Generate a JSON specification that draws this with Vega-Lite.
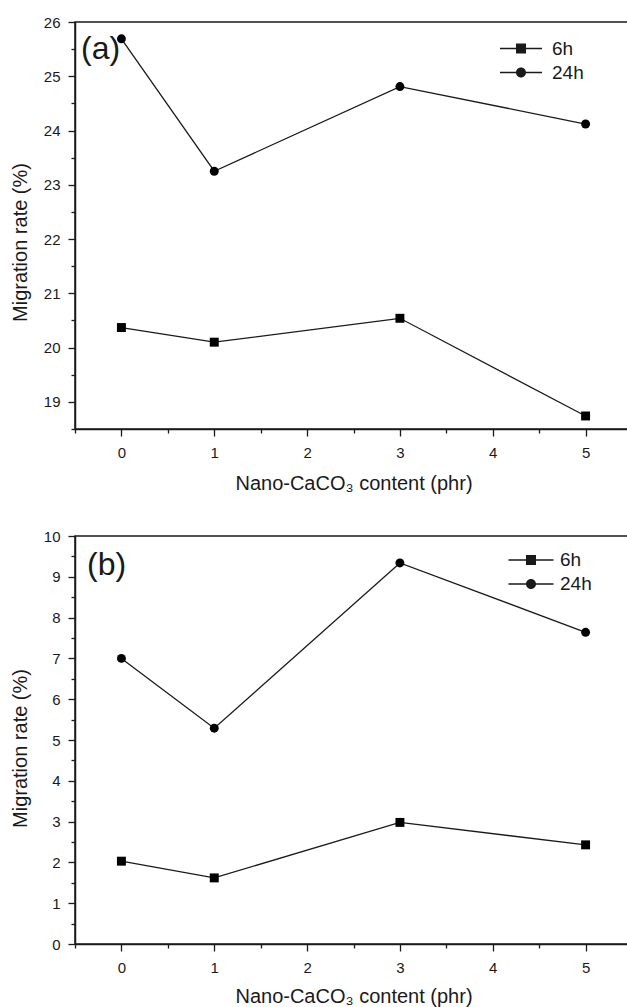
{
  "$schema": "https://vega.github.io/schema/vega-lite/v6.json",
  "padding": {"left": 9, "top": 14, "right": 0, "bottom": 0},
  "bounds": "flush",
  "spacing": 107,
  "datasets": {
    "a": [
      {"phr": 0, "time": "6h", "rate": 20.37},
      {"phr": 1, "time": "6h", "rate": 20.10},
      {"phr": 3, "time": "6h", "rate": 20.54},
      {"phr": 5, "time": "6h", "rate": 18.74},
      {"phr": 0, "time": "24h", "rate": 25.69},
      {"phr": 1, "time": "24h", "rate": 23.25},
      {"phr": 3, "time": "24h", "rate": 24.81},
      {"phr": 5, "time": "24h", "rate": 24.12}
    ],
    "b": [
      {"phr": 0, "time": "6h", "rate": 2.03},
      {"phr": 1, "time": "6h", "rate": 1.62},
      {"phr": 3, "time": "6h", "rate": 2.98},
      {"phr": 5, "time": "6h", "rate": 2.43},
      {"phr": 0, "time": "24h", "rate": 7.0},
      {"phr": 1, "time": "24h", "rate": 5.29},
      {"phr": 3, "time": "24h", "rate": 9.34},
      {"phr": 5, "time": "24h", "rate": 7.64}
    ]
  },
  "vconcat": [
    {
      "width": 557,
      "height": 407,
      "data": {"name": "a"},
      "encoding": {
        "x": {"field": "phr", "type": "quantitative", "scale": {"domain": [-0.5, 5.5], "nice": false, "zero": false},
          "axis": {"title": "Nano-CaCO₃ content (phr)", "values": [-0.5, 0, 0.5, 1, 1.5, 2, 2.5, 3, 3.5, 4, 4.5, 5, 5.5],
            "labelExpr": "datum.value % 1 === 0 ? format(datum.value, 'd') : ''",
            "tickSize": {"condition": {"test": "datum.value % 1 !== 0", "value": 4}, "value": 7},
            "labelPadding": 9.5, "titleY": 60, "titleBaseline": "alphabetic"}},
        "y": {"field": "rate", "type": "quantitative", "scale": {"domain": [18.5, 26], "nice": false, "zero": false},
          "axis": {"title": "Migration rate (%)", "values": [18.5, 19, 19.5, 20, 20.5, 21, 21.5, 22, 22.5, 23, 23.5, 24, 24.5, 25, 25.5, 26],
            "labelExpr": "datum.value % 1 === 0 ? format(datum.value, 'd') : ''",
            "tickSize": {"condition": {"test": "datum.value % 1 !== 0", "value": 4}, "value": 7},
            "labelPadding": 8, "titleX": -49, "titleY": 220, "titleBaseline": "alphabetic"}}
      },
      "layer": [
        {"mark": {"type": "line", "color": "#1a1a1a", "strokeWidth": 1.3}, "encoding": {"detail": {"field": "time"}}},
        {"mark": {"type": "point", "filled": true, "opacity": 1, "color": "#000000", "size": 80},
          "encoding": {"shape": {"field": "time", "type": "nominal", "scale": {"domain": ["6h", "24h"], "range": ["square", "circle"]}, "legend": null}}},
        {"mark": {"type": "point", "filled": true, "opacity": 0, "color": "#1a1a1a", "size": 100},
          "encoding": {"shape": {"field": "time", "type": "nominal",
            "scale": {"domain": ["6h", "24h"], "range": ["M-4.2,-0.13H4.2V0.13H-4.2ZM-1,-1H1V1H-1Z", "M-4.2,-0.13H4.2V0.13H-4.2ZM1,0A1,1,0,1,1,-1,0A1,1,0,1,1,1,0Z"]},
            "legend": {"title": null, "orient": "none", "legendX": 436.5, "legendY": 17, "labelFontSize": 19, "labelOffset": 21.5, "rowPadding": 4,
              "symbolSize": 100, "symbolFillColor": "#1a1a1a", "symbolOpacity": 1, "padding": 0}}}},
        {"transform": [{"filter": "datum.phr === 0 && datum.time === '24h'"}],
          "mark": {"type": "text", "align": "left", "baseline": "alphabetic", "fontSize": 32, "color": "#1a1a1a"},
          "encoding": {"x": {"datum": -0.435}, "y": {"datum": 25.313}, "text": {"value": "(a)"}}}
      ],
      "resolve": {"scale": {"shape": "independent"}, "legend": {"shape": "independent"}}
    },
    {
      "width": 557,
      "height": 408,
      "data": {"name": "b"},
      "encoding": {
        "x": {"field": "phr", "type": "quantitative", "scale": {"domain": [-0.5, 5.5], "nice": false, "zero": false},
          "axis": {"title": "Nano-CaCO₃ content (phr)", "values": [-0.5, 0, 0.5, 1, 1.5, 2, 2.5, 3, 3.5, 4, 4.5, 5, 5.5],
            "labelExpr": "datum.value % 1 === 0 ? format(datum.value, 'd') : ''",
            "tickSize": {"condition": {"test": "datum.value % 1 !== 0", "value": 4}, "value": 7},
            "labelPadding": 9.5, "titleY": 58, "titleBaseline": "alphabetic"}},
        "y": {"field": "rate", "type": "quantitative", "scale": {"domain": [0, 10], "nice": false, "zero": false},
          "axis": {"title": "Migration rate (%)", "values": [0, 0.5, 1, 1.5, 2, 2.5, 3, 3.5, 4, 4.5, 5, 5.5, 6, 6.5, 7, 7.5, 8, 8.5, 9, 9.5, 10],
            "labelExpr": "datum.value % 1 === 0 ? format(datum.value, 'd') : ''",
            "tickSize": {"condition": {"test": "datum.value % 1 !== 0", "value": 4}, "value": 7},
            "labelPadding": 8, "titleX": -49, "titleY": 212, "titleBaseline": "alphabetic"}}
      },
      "layer": [
        {"mark": {"type": "line", "color": "#1a1a1a", "strokeWidth": 1.3}, "encoding": {"detail": {"field": "time"}}},
        {"mark": {"type": "point", "filled": true, "opacity": 1, "color": "#000000", "size": 80},
          "encoding": {"shape": {"field": "time", "type": "nominal", "scale": {"domain": ["6h", "24h"], "range": ["square", "circle"]}, "legend": null}}},
        {"mark": {"type": "point", "filled": true, "opacity": 0, "color": "#1a1a1a", "size": 100},
          "encoding": {"shape": {"field": "time", "type": "nominal",
            "scale": {"domain": ["6h", "24h"], "range": ["M-4.5,-0.13H4.5V0.13H-4.5ZM-1,-1H1V1H-1Z", "M-4.5,-0.13H4.5V0.13H-4.5ZM1,0A1,1,0,1,1,-1,0A1,1,0,1,1,1,0Z"]},
            "legend": {"title": null, "orient": "none", "legendX": 446.5, "legendY": 14.5, "labelFontSize": 19, "labelOffset": 19.5, "rowPadding": 4,
              "symbolSize": 100, "symbolFillColor": "#1a1a1a", "symbolOpacity": 1, "padding": 0}}}},
        {"transform": [{"filter": "datum.phr === 0 && datum.time === '24h'"}],
          "mark": {"type": "text", "align": "left", "baseline": "alphabetic", "fontSize": 32, "color": "#1a1a1a"},
          "encoding": {"x": {"datum": -0.371}, "y": {"datum": 9.044}, "text": {"value": "(b)"}}}
      ],
      "resolve": {"scale": {"shape": "independent"}, "legend": {"shape": "independent"}}
    }
  ],
  "resolve": {"scale": {"shape": "independent"}, "legend": {"shape": "independent"}},
  "config": {
    "font": "Liberation Sans",
    "view": {"stroke": "#1a1a1a", "strokeWidth": 1.5},
    "axis": {"grid": false, "domainColor": "#1a1a1a", "domainWidth": 1.5, "tickColor": "#1a1a1a", "tickWidth": 1.3,
      "labelColor": "#1a1a1a", "titleColor": "#1a1a1a", "labelFontSize": 15, "titleFontSize": 20, "titleFontWeight": "normal",
      "labelFont": "Liberation Sans", "titleFont": "Liberation Sans"},
    "legend": {"labelColor": "#1a1a1a", "labelFont": "Liberation Sans"}
  }
}
